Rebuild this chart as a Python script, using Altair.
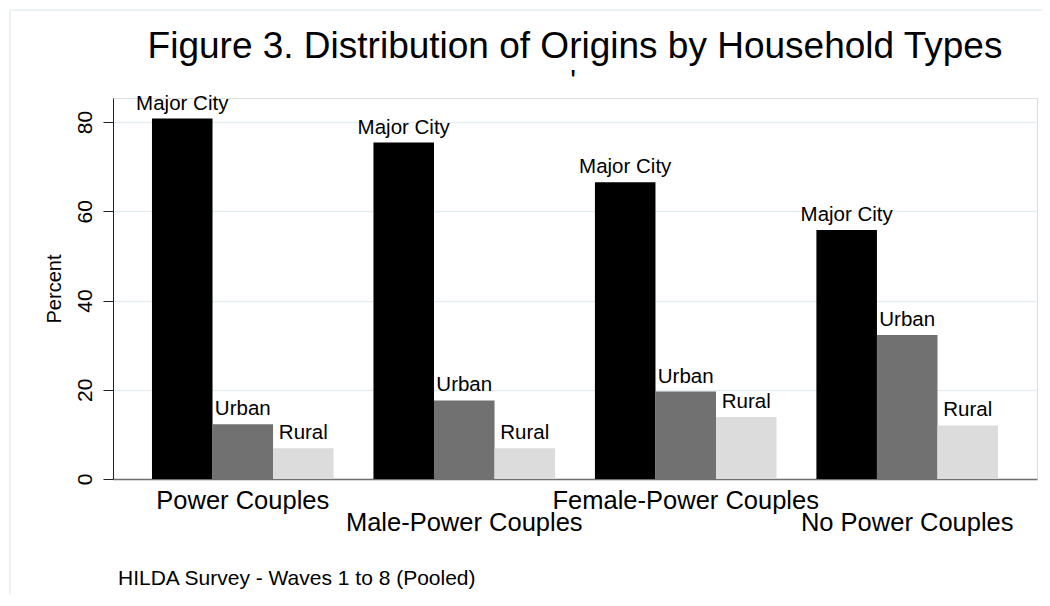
import altair as alt
import pandas as pd

# ---- data ----
groups = ["Power Couples", "Male-Power Couples", "Female-Power Couples", "No Power Couples"]
origins = ["Major City", "Urban", "Rural"]
major_city = [80.8, 75.4, 66.5, 55.8]
urban = [12.3, 17.6, 19.6, 32.3]
rural = [6.9, 6.9, 13.9, 12.0]
y_ticks = [0, 20, 40, 60, 80]
title_text = "Figure 3. Distribution of Origins by Household Types"
subtitle_text = "'"
footnote = "HILDA Survey - Waves 1 to 8 (Pooled)"

rows = []
for i, g in enumerate(groups):
    for o, vals in zip(origins, [major_city, urban, rural]):
        rows.append({"group": g, "origin": o, "value": vals[i]})
df = pd.DataFrame(rows)

FONT = "Liberation Sans"

x_enc = alt.X(
    "group:N",
    sort=groups,
    title=None,
    scale=alt.Scale(paddingInner=0.18, paddingOuter=0.176),
    axis=alt.Axis(
        labelExpr="(datum.value == 'Male-Power Couples' || datum.value == 'No Power Couples') ? ['', datum.value] : datum.value",
        labelFont=FONT,
        labelFontSize=25.5,
        labelLineHeight=22,
        labelColor="black",
        labelPadding=9,
        labelLimit=0,
        labelOverlap=False,
        labelFlush=False,
        labelAngle=0,
        ticks=False,
        domainColor="#707070",
        domainWidth=1.5,
        grid=False,
    ),
)
xoff_enc = alt.XOffset("origin:N", sort=origins, scale=alt.Scale(paddingInner=0, paddingOuter=0))
y_enc = alt.Y(
    "value:Q",
    title="Percent",
    scale=alt.Scale(domain=[0, 85.4], nice=False, zero=True),
    axis=alt.Axis(
        values=y_ticks,
        labelFont=FONT,
        labelFontSize=21,
        labelAngle=270,
        labelAlign="center",
        labelBaseline="bottom",
        labelPadding=8,
        labelColor="black",
        tickSize=10,
        tickColor="#222222",
        domainColor="#222222",
        domainWidth=1,
        grid=True,
        gridColor="#e6edf1",
        gridWidth=1.5,
        titleFont=FONT,
        titleFontSize=20,
        titleFontWeight="normal",
        titleColor="black",
        titlePadding=10,
    ),
)

bars = alt.Chart(df).mark_bar().encode(
    x=x_enc,
    xOffset=xoff_enc,
    y=y_enc,
    color=alt.Color(
        "origin:N",
        sort=origins,
        scale=alt.Scale(domain=origins, range=["#000000", "#717171", "#dcdcdc"]),
        legend=None,
    ),
)

labels = alt.Chart(df).mark_text(
    font=FONT, fontSize=20.5, baseline="alphabetic", align="center", dy=-9, color="black"
).encode(
    x=alt.X("group:N", sort=groups),
    xOffset=alt.XOffset("origin:N", sort=origins),
    y="value:Q",
    text="origin:N",
)

one = pd.DataFrame({"k": [1]})

title_mark = alt.Chart(pd.DataFrame({"t": [title_text]})).mark_text(
    font=FONT, fontSize=37, align="center", baseline="alphabetic", color="black"
).encode(x=alt.value(462), y=alt.value(-40), text="t:N")

subtitle_mark = alt.Chart(pd.DataFrame({"t": [subtitle_text]})).mark_text(
    font=FONT, fontSize=30, align="center", baseline="alphabetic", color="black"
).encode(x=alt.value(460), y=alt.value(-8), text="t:N")

note = alt.Chart(pd.DataFrame({"note": [footnote]})).mark_text(
    font=FONT, fontSize=21, align="left", baseline="alphabetic", color="black"
).encode(x=alt.value(5), y=alt.value(487), text="note:N")

frame_top = alt.Chart(one).mark_rule(color="#e6edf0", strokeWidth=1.5).encode(
    x=alt.value(-103), x2=alt.value(940), y=alt.value(-88)
)
frame_left = alt.Chart(one).mark_rule(color="#e6edf0", strokeWidth=1.5).encode(
    x=alt.value(-103), y=alt.value(-88), y2=alt.value(500)
)

chart = (
    alt.layer(frame_top, frame_left, bars, labels, title_mark, subtitle_mark, note)
    .properties(
        width=924,
        height=381,
        autosize=alt.AutoSizeParams(type="none"),
        padding={"left": 105, "top": 90, "right": 5, "bottom": 115},
    )
    .configure_view(stroke="transparent", strokeWidth=0)
    .configure(background="white")
)

chart.save("out.html", embed_options={"renderer": "svg", "actions": False})
